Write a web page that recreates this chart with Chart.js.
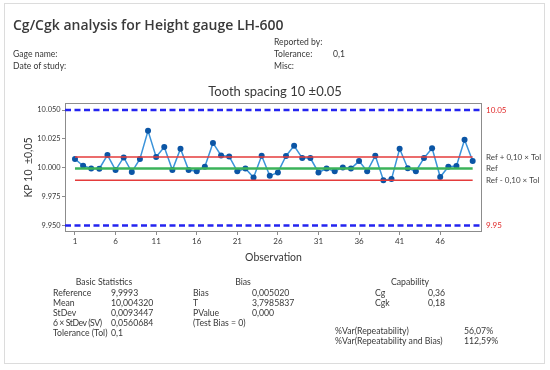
<!DOCTYPE html>
<html>
<head>
<meta charset="utf-8">
<script src="https://cdn.jsdelivr.net/npm/chart.js@4.4.1/dist/chart.umd.min.js"></script>
<style>
  html, body { margin: 0; padding: 0; background: #fff; }
  #wrap { position: relative; width: 550px; height: 370px; overflow: hidden; font-family: Lato, "Open Sans", sans-serif; color: #383838; }
  #frame { position: absolute; left: 4px; top: 3px; width: 541px; height: 361px; border: 1px solid #dcdcdc; box-sizing: border-box; }
  canvas { position: absolute; left: 0; top: 0; }
  .t { position: absolute; white-space: nowrap; line-height: 12px; font-size: 8.6px; }
  .s { font-size: 8.7px; }
  .c { transform: translateX(-50%); }
</style>
</head>
<body>
<div id="wrap">
  <div id="frame"></div>
  <canvas id="chart" width="550" height="370"></canvas>
  <div class="t" style="left:13px; top:15px; line-height:20px; font-family:'Open Sans', sans-serif; font-size:14px; font-weight:600; color:#3a3a3a;">Cg/Cgk analysis for Height gauge LH-600</div>
  <div class="t" style="left:274px; top:36px;">Reported by:</div>
  <div class="t" style="left:13px; top:48px;">Gage name:</div>
  <div class="t" style="left:274px; top:48px;">Tolerance:</div>
  <div class="t" style="left:333px; top:48px;">0,1</div>
  <div class="t" style="left:13px; top:60px;">Date of study:</div>
  <div class="t" style="left:274px; top:60px;">Misc:</div>

  <div class="t s c" style="left:104px; top:276px;">Basic Statistics</div>
  <div class="t s c" style="left:243px; top:276px;">Bias</div>
  <div class="t s c" style="left:410px; top:276px;">Capability</div>

  <div class="t s" style="left:53px; top:286.5px;">Reference</div>
  <div class="t s" style="left:111px; top:286.5px;">9,9993</div>
  <div class="t s" style="left:53px; top:296.5px;">Mean</div>
  <div class="t s" style="left:111px; top:296.5px;">10,004320</div>
  <div class="t s" style="left:53px; top:306.5px;">StDev</div>
  <div class="t s" style="left:111px; top:306.5px;">0,0093447</div>
  <div class="t s" style="left:53px; top:316.5px; letter-spacing:-0.45px;">6 × StDev (SV)</div>
  <div class="t s" style="left:111px; top:316.5px;">0,0560684</div>
  <div class="t s" style="left:53px; top:326.5px;">Tolerance (Tol)</div>
  <div class="t s" style="left:111px; top:326.5px;">0,1</div>

  <div class="t s" style="left:193px; top:286.5px;">Bias</div>
  <div class="t s" style="left:252px; top:286.5px;">0,005020</div>
  <div class="t s" style="left:193px; top:296.5px;">T</div>
  <div class="t s" style="left:252px; top:296.5px;">3,7985837</div>
  <div class="t s" style="left:193px; top:306.5px;">PValue</div>
  <div class="t s" style="left:252px; top:306.5px;">0,000</div>
  <div class="t s" style="left:193px; top:316.5px;">(Test Bias = 0)</div>

  <div class="t s" style="left:375px; top:286.5px;">Cg</div>
  <div class="t s" style="left:428px; top:286.5px;">0,36</div>
  <div class="t s" style="left:375px; top:296.5px;">Cgk</div>
  <div class="t s" style="left:428px; top:296.5px;">0,18</div>

  <div class="t s" style="left:335px; top:324.5px;">%Var(Repeatability)</div>
  <div class="t s" style="left:464px; top:324.5px;">56,07%</div>
  <div class="t s" style="left:335px; top:335px;">%Var(Repeatability and Bias)</div>
  <div class="t s" style="left:464px; top:335px;">112,59%</div>
</div>
<script>
// ---- data ----
const observations = [
  10.0076, 10.0017, 9.9994, 9.9992, 10.0110, 9.9980, 10.0090, 9.9963, 10.0076, 10.0320,
  10.0093, 10.0180, 9.9980, 10.0165, 9.9980, 9.9970, 10.0009, 10.0215, 10.0107, 10.0098,
  9.9970, 9.9994, 9.9916, 10.0104, 9.9930, 9.9960, 10.0102, 10.0190, 10.0084, 10.0084,
  9.9960, 9.9994, 9.9970, 10.0003, 9.9993, 10.0058, 9.9970, 10.0104, 9.9893, 9.9902,
  10.0165, 9.9996, 9.9970, 10.0084, 10.0170, 9.9920, 10.0009, 10.0015, 10.0243, 10.0058
];
const xTickValues = [1, 6, 11, 16, 21, 26, 31, 36, 41, 46];
const yTickValues = [9.950, 9.975, 10.000, 10.025, 10.050];
const reference = 9.9993;
const refUpper = 10.0093;   // Ref + 0,10 × Tol
const refLower = 9.9893;    // Ref - 0,10 × Tol
const tolUpper = 10.05;
const tolLower = 9.95;
const rightLabelValues = [tolLower, refLower, reference, refUpper, tolUpper];
const rightLabelTexts  = ['9.95', 'Ref - 0,10 × Tol', 'Ref', 'Ref + 0,10 × Tol', '10.05'];
const rightLabelIsLimit = [true, false, false, false, true];
const xRange = [-0.23, 51.15];
const yRange = [9.9444, 10.0561];

// ---- styles ----
const FONT = 'Lato, "Open Sans", sans-serif';
const TXT = '#383838';
const AXIS = '#8c8c8c';

const n = observations.length;
const obsPoints = observations.map((v, i) => ({ x: i + 1, y: v }));
const hLine = (y, x0, x1) => [{ x: x0, y: y }, { x: x1, y: y }];

const framePlugin = {
  id: 'frame',
  beforeDatasetsDraw(chart) {
    const { ctx, chartArea: a } = chart;
    ctx.save();
    ctx.strokeStyle = AXIS;
    ctx.lineWidth = 1;
    ctx.strokeRect(Math.round(a.left) + 0.5, Math.round(a.top) + 0.5,
                   Math.round(a.right - a.left) - 1, Math.round(a.bottom - a.top) - 1);
    ctx.restore();
  }
};

new Chart(document.getElementById('chart'), {
  type: 'line',
  data: {
    datasets: [
      { data: hLine(tolUpper, xRange[0], xRange[1]), borderColor: '#2424f0', borderWidth: 2.5, borderDash: [6, 3.5], pointRadius: 0 },
      { data: hLine(tolLower, xRange[0], xRange[1]), borderColor: '#2424f0', borderWidth: 2.5, borderDash: [6, 3.5], pointRadius: 0 },
      { data: hLine(refUpper, 1, n), borderColor: '#e43b3b', borderWidth: 1.5, pointRadius: 0 },
      { data: hLine(refLower, 1, n), borderColor: '#e43b3b', borderWidth: 1.5, pointRadius: 0 },
      { data: hLine(reference, 1, n), borderColor: '#3bb35a', borderWidth: 2.5, pointRadius: 0 },
      { data: obsPoints, borderColor: '#3a93da', borderWidth: 1.5, pointRadius: 3,
        pointBackgroundColor: '#0b55a5', pointBorderColor: '#0b55a5', pointBorderWidth: 0, tension: 0 }
    ]
  },
  options: {
    responsive: false,
    animation: false,
    devicePixelRatio: 1,
    layout: { padding: { left: 0, right: 0, top: 0, bottom: 106 } },
    plugins: {
      legend: { display: false },
      tooltip: { enabled: false },
      title: {
        display: true,
        text: 'Tooth spacing 10 ±0.05',
        color: TXT,
        font: { family: FONT, size: 13, weight: 'normal' },
        padding: { top: 84, bottom: 3.4 }
      }
    },
    scales: {
      x: {
        type: 'linear', position: 'bottom',
        min: xRange[0], max: xRange[1],
        afterBuildTicks: s => { s.ticks = xTickValues.map(v => ({ value: v })); },
        afterFit: s => { s.height = 32; },
        ticks: { color: TXT, font: { family: FONT, size: 8 }, padding: 2, maxRotation: 0, autoSkip: false,
                 callback: v => String(v) },
        grid: { drawOnChartArea: false, drawTicks: true, tickLength: 3, color: AXIS },
        border: { display: false },
        title: { display: true, text: 'Observation', color: TXT, font: { family: FONT, size: 10.5 }, padding: 0 }
      },
      y: {
        type: 'linear', position: 'left',
        min: yRange[0], max: yRange[1],
        afterBuildTicks: s => { s.ticks = yTickValues.map(v => ({ value: v })); },
        afterFit: s => { s.width = 65; },
        ticks: { color: TXT, font: { family: FONT, size: 7.4 }, padding: 1.5, autoSkip: false,
                 callback: v => Number(v).toFixed(3) },
        grid: { drawOnChartArea: false, drawTicks: true, tickLength: 3, color: AXIS },
        border: { display: false },
        title: { display: true, text: 'KP 10  ±0,05', color: TXT, font: { family: FONT, size: 10.5 }, padding: { top: 22.7, bottom: 0 } }
      },
      y2: {
        type: 'linear', position: 'right',
        min: yRange[0], max: yRange[1],
        afterBuildTicks: s => { s.ticks = rightLabelValues.map(v => ({ value: v })); },
        afterFit: s => { s.width = 68; },
        ticks: {
          autoSkip: false, padding: 4,
          font: { family: FONT, size: 8 },
          color: ctx => rightLabelIsLimit[ctx.index] ? '#e02828' : '#444444',
          callback: (v, i) => rightLabelTexts[i]
        },
        grid: { display: false, drawTicks: false },
        border: { display: false }
      }
    }
  },
  plugins: [framePlugin]
});
</script>
</body>
</html>
